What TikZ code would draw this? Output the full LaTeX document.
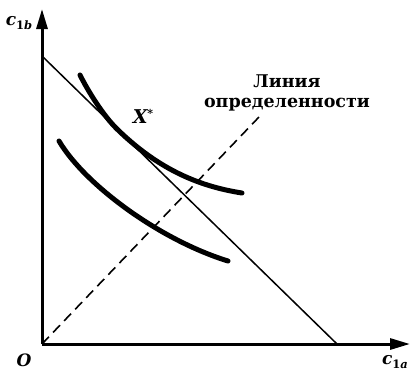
\documentclass[tikz,border=0pt]{standalone}
\usepackage{fontspec}
\setmainfont{DejaVu Serif}
\usetikzlibrary{arrows.meta}
\tikzset{
  axis/.style={line width=3pt,-{Triangle[length=20pt,width=11pt]}},
  budget/.style={line width=1.5pt},
  certain/.style={line width=1.6pt,dash pattern=on 10pt off 6pt},
  indiff/.style={line width=5pt,line cap=round},
  lbl/.style={font=\fontsize{17}{17}\selectfont\bfseries\itshape,inner sep=0pt},
  txt/.style={font=\fontsize{17.5}{20}\selectfont\bfseries,inner sep=0pt,align=center}
}
\begin{document}
\begin{tikzpicture}[x=1pt,y=-1pt]
\useasboundingbox (0,0) rectangle (411,370);
\coordinate (O) at (42,344);
\coordinate (ytip) at (42,9);
\coordinate (xtip) at (410,344);
\coordinate (bA) at (42,56);
\coordinate (bB) at (337,344);
\coordinate (dEnd) at (259,117);
\coordinate (uA) at (80,75);
\coordinate (uT) at (117,129);
\coordinate (uB) at (242,193);
\coordinate (lA) at (59,141);
\coordinate (lB) at (228,261);
% axes
\draw[axis] (O) -- (ytip);
\draw[axis] (O) -- (xtip);
% budget line
\draw[budget] (bA) -- (bB);
% certainty line
\draw[certain] (O) -- (dEnd);
% indifference curves
\draw[indiff] (uA) .. controls (88,91) and (103,115.3) .. (uT)
                   .. controls (157,168) and (197,186) .. (uB);
\draw[indiff] (lA) .. controls (85,185) and (160,240) .. (lB);
% labels
\node[lbl] (cb) at (19,23) {c\raisebox{-4pt}{\fontsize{11.5}{11.5}\selectfont\upshape 1\itshape b}};
\node[lbl] (ca) at (395,362) {c\raisebox{-4pt}{\fontsize{11.5}{11.5}\selectfont\upshape 1\itshape a}};
\node[lbl] (Ol) at (24,360) {O};
\node[lbl,font=\fontsize{19}{19}\selectfont\bfseries\itshape] (Xs) at (143,116) {X\raisebox{6pt}{\fontsize{11}{11}\selectfont\upshape *}};
\node[txt] (line) at (287,93) {Линия\\определенности};
\end{tikzpicture}
\end{document}
